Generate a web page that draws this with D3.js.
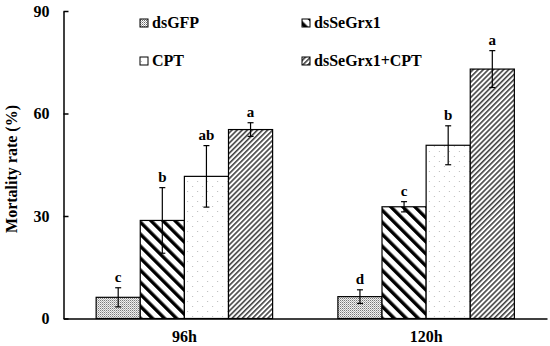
<!DOCTYPE html>
<html><head><meta charset="utf-8">
<script src="https://cdn.jsdelivr.net/npm/d3@7"></script>
<style>body{margin:0;background:#fff}svg{display:block}text{font-family:"Liberation Serif","Times New Roman",serif;font-weight:bold}</style>
</head><body>
<svg id="c" width="550" height="346"></svg>
<script>
const categories = ["96h", "120h"];
const seriesNames = ["dsGFP", "dsSeGrx1", "CPT", "dsSeGrx1+CPT"];
const means = [
  [6.2, 28.7, 41.6, 55.3],
  [6.4, 32.7, 50.7, 73.0]
];
const errors = [
  [2.8, 9.6, 9.0, 2.0],
  [2.0, 1.5, 5.7, 5.4]
];
const letters = [
  ["c", "b", "ab", "a"],
  ["d", "c", "b", "a"]
];
const yTicks = [0, 30, 60, 90];

const svg = d3.select("#c");
const mLeft = 63.5, mRight = 547, mTop = 11, mBottom = 318.5;
const defs = svg.append("defs");

// patterns
const p0 = defs.append("pattern").attr("id","p0").attr("patternUnits","userSpaceOnUse").attr("width",2).attr("height",2);
p0.append("rect").attr("width",2).attr("height",2).attr("fill","#fff");
p0.append("rect").attr("width",1).attr("height",1).attr("fill","#666");
p0.append("rect").attr("x",1).attr("y",1).attr("width",1).attr("height",1).attr("fill","#aaa");

const p1 = defs.append("pattern").attr("id","p1").attr("patternUnits","userSpaceOnUse").attr("width",8.5).attr("height",8.5).attr("patternTransform","rotate(-45)");
p1.append("rect").attr("width",8.5).attr("height",8.5).attr("fill","#fff");
p1.append("rect").attr("x",0).attr("width",3.4).attr("height",8.5).attr("fill","#000");

const p2 = defs.append("pattern").attr("id","p2").attr("patternUnits","userSpaceOnUse").attr("width",10).attr("height",10);
p2.append("rect").attr("width",10).attr("height",10).attr("fill","#fff");
p2.append("rect").attr("x",1).attr("y",1).attr("width",1).attr("height",1).attr("fill","#bbb");
p2.append("rect").attr("x",6).attr("y",6).attr("width",1).attr("height",1).attr("fill","#bbb");

const p3 = defs.append("pattern").attr("id","p3").attr("patternUnits","userSpaceOnUse").attr("width",3.6).attr("height",3.6).attr("patternTransform","rotate(45)");
p3.append("rect").attr("width",3.6).attr("height",3.6).attr("fill","#fff");
p3.append("rect").attr("width",1.6).attr("height",3.6).attr("fill","#444");

const fills = ["url(#p0)","url(#p1)","url(#p2)","url(#p3)"];

const x0 = d3.scaleBand().domain(categories).range([mLeft, mRight]).paddingInner(0.27).paddingOuter(0.135);
const x1 = d3.scaleBand().domain(seriesNames).range([0, x0.bandwidth()]);
const y = d3.scaleLinear().domain([0, 90]).range([mBottom, mTop]);

// bars
categories.forEach((cat, ci) => {
  const g = svg.append("g").attr("transform", `translate(${x0(cat)},0)`);
  seriesNames.forEach((s, si) => {
    const v = means[ci][si], e = errors[ci][si];
    const bx = x1(s), bw = x1.bandwidth();
    g.append("rect").attr("x", bx).attr("y", y(v)).attr("width", bw).attr("height", y(0) - y(v))
      .attr("fill", fills[si]).attr("stroke", "#000").attr("stroke-width", 1.2);
    const cx = bx + bw / 2;
    g.append("line").attr("x1", cx).attr("x2", cx).attr("y1", y(v + e)).attr("y2", y(v - e)).attr("stroke", "#000").attr("stroke-width", 1.2);
    [v + e, v - e].forEach(t => g.append("line").attr("x1", cx - 3).attr("x2", cx + 3).attr("y1", y(t)).attr("y2", y(t)).attr("stroke", "#000").attr("stroke-width", 1.2));
    g.append("text").attr("x", cx).attr("y", y(v + e) - 6).attr("text-anchor", "middle").attr("font-size", 15).text(letters[ci][si]);
  });
});

// y axis
const yAxis = d3.axisLeft(y).tickValues(yTicks).tickSizeInner(-5).tickSizeOuter(0).tickPadding(14);
const ya = svg.append("g").attr("transform", `translate(${mLeft},0)`).call(yAxis);
ya.select(".domain").attr("stroke", "#000").attr("stroke-width", 1.5);
ya.selectAll(".tick line").attr("stroke", "#000").attr("stroke-width", 1.5);
ya.selectAll(".tick text").attr("font-size", 16).attr("fill", "#000").attr("font-family", "Liberation Serif").attr("font-weight", "bold");

// x axis
const xAxis = d3.axisBottom(x0).tickSize(0).tickPadding(12);
const xa = svg.append("g").attr("transform", `translate(0,${mBottom})`).call(xAxis);
xa.select(".domain").attr("stroke", "#000").attr("stroke-width", 1.5);
xa.selectAll(".tick text").attr("font-size", 16).attr("fill", "#000").attr("font-family", "Liberation Serif").attr("font-weight", "bold");

// y title
svg.append("text").attr("transform", "translate(17,169) rotate(-90)").attr("text-anchor", "middle").attr("font-size", 16).text("Mortality rate (%)");

// legend
const legPos = [[140, 19], [302, 19], [140, 57], [302, 57]];
seriesNames.forEach((s, i) => {
  const [lx, ly] = legPos[i];
  svg.append("rect").attr("x", lx).attr("y", ly).attr("width", 8).attr("height", 8).attr("fill", fills[i]).attr("stroke", "#000").attr("stroke-width", 1);
  svg.append("text").attr("x", lx + 12).attr("y", ly + 9).attr("font-size", 16).text(s);
});
</script>
</body></html>
